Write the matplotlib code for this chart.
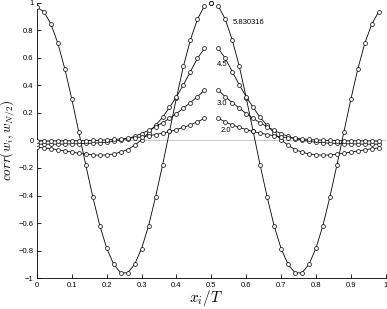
import numpy as np
import matplotlib
matplotlib.use("Agg")
import matplotlib.pyplot as plt

plt.rcParams['font.family'] = ['Liberation Sans', 'DejaVu Sans']
plt.rcParams['mathtext.fontset'] = 'cm'

# -------- Data --------
# x_i / T for i = 0..49 (N = 50); index 25 is x = 0.5 (self-correlation = 1)
x = [i / 50 for i in range(50)]

corr_583 = [0.967, 0.935, 0.845, 0.705, 0.518, 0.298, 0.06, -0.18, -0.41, -0.618,
            -0.783, -0.90, -0.962, -0.962, -0.90, -0.785, -0.62, -0.41, -0.18, 0.065,
            0.31, 0.54, 0.73, 0.88, 0.976,
            1.0,
            0.976, 0.88, 0.73, 0.54, 0.31, 0.065, -0.18, -0.41, -0.62, -0.785,
            -0.90, -0.962, -0.962, -0.90, -0.783, -0.618, -0.41, -0.18, 0.06, 0.298,
            0.518, 0.705, 0.845, 0.935]

corr_45 = [-0.05, -0.054, -0.06, -0.068, -0.077, -0.085, -0.093, -0.1, -0.105, -0.107,
           -0.105, -0.098, -0.085, -0.066, -0.035, 0.005, 0.055, 0.11, 0.167, 0.24,
           0.317, 0.405, 0.50, 0.596, 0.668,
           1.0,
           0.668, 0.596, 0.50, 0.405, 0.317, 0.24, 0.167, 0.11, 0.055, 0.005,
           -0.035, -0.066, -0.085, -0.098, -0.105, -0.107, -0.105, -0.1, -0.093, -0.085,
           -0.077, -0.068, -0.06, -0.054]

corr_30 = [-0.027, -0.027, -0.027, -0.027, -0.026, -0.025, -0.024, -0.022, -0.02, -0.017,
           -0.013, -0.007, 0.002, 0.014, 0.03, 0.05, 0.073, 0.1, 0.128, 0.16,
           0.195, 0.235, 0.275, 0.317, 0.365,
           1.0,
           0.365, 0.317, 0.275, 0.235, 0.195, 0.16, 0.128, 0.1, 0.073, 0.05,
           0.03, 0.014, 0.002, -0.007, -0.013, -0.017, -0.02, -0.022, -0.024, -0.025,
           -0.026, -0.027, -0.027, -0.027]

corr_20 = [-0.004, -0.004, -0.004, -0.003, -0.003, -0.003, -0.002, -0.001, 0.0, 0.002,
           0.004, 0.007, 0.011, 0.015, 0.02, 0.026, 0.034, 0.043, 0.053, 0.065,
           0.079, 0.095, 0.113, 0.135, 0.16,
           1.0,
           0.16, 0.135, 0.113, 0.095, 0.079, 0.065, 0.053, 0.043, 0.034, 0.026,
           0.02, 0.015, 0.011, 0.007, 0.004, 0.002, 0.0, -0.001, -0.002, -0.003,
           -0.003, -0.003, -0.004, -0.004]

series = [corr_583, corr_45, corr_30, corr_20]
labels = ['5.830316', '4.5', '3.0', '2.0']
label_pos = [(0.56, 0.86), (0.516, 0.55), (0.516, 0.27), (0.526, 0.075)]

xticks = [0, 0.1, 0.2, 0.3, 0.4, 0.5, 0.6, 0.7, 0.8, 0.9, 1]
xtick_labels = ['0', '0.1', '0.2', '0.3', '0.4', '0.5', '0.6', '0.7', '0.8', '0.9', '1']
yticks = [-1, -0.8, -0.6, -0.4, -0.2, 0, 0.2, 0.4, 0.6, 0.8, 1]
ytick_labels = ['\u22121', '\u22120.8', '\u22120.6', '\u22120.4', '\u22120.2', '0',
                '0.2', '0.4', '0.6', '0.8', '1']

# -------- Figure --------
fig = plt.figure(figsize=(3.87, 3.09), dpi=100)
ax = fig.add_axes([0.0956, 0.100, 0.901, 0.891])

ax.axhline(0, color='#c8c8c8', lw=0.7, zorder=1)

mid = 25
for y, lab, (lx, ly) in zip(series, labels, label_pos):
    y_line = np.array(y, dtype=float)
    y_line[mid] = np.nan
    ax.plot(x, y_line, color='black', lw=0.6, marker='o', ms=2.8,
            mfc='white', mec='black', mew=0.5, zorder=3)
    ax.plot([x[mid]], [y[mid]], ls='none', marker='o', ms=2.8,
            mfc='white', mec='black', mew=0.5, clip_on=False, zorder=4)
    ax.text(lx, ly, lab, fontsize=5.5, ha='left', va='center')

ax.set_xlim(0, 1)
ax.set_ylim(-1, 1)
ax.set_xticks(xticks)
ax.set_xticklabels(xtick_labels)
ax.set_yticks(yticks)
ax.set_yticklabels(ytick_labels)
ax.tick_params(direction='in', length=3, width=0.6, labelsize=5.5, pad=2.5)
ax.spines['top'].set_visible(False)
ax.spines['right'].set_visible(False)
ax.spines['left'].set_linewidth(0.6)
ax.spines['bottom'].set_linewidth(0.6)

ax.set_xlabel(r'$x_i/T$', fontsize=11, va='center')
ax.xaxis.set_label_coords(0.485, -0.073)
ax.set_ylabel(r'$corr(w_i,w_{N/2})$', fontsize=9.5, va='center')
ax.yaxis.set_label_coords(-0.081, 0.5)

fig.savefig('out.png', dpi=100)
